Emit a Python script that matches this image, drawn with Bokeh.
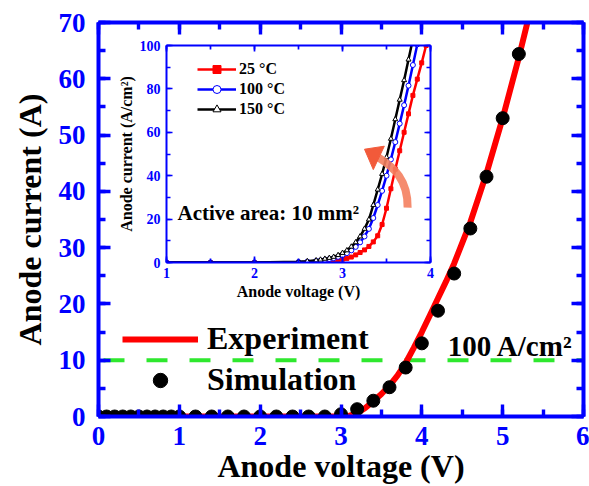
from bokeh.plotting import figure
from bokeh.models import (Range1d, LinearAxis, SingleIntervalTicker, Span, Label,
                          Legend, LegendItem, CustomJSTickFormatter)
from bokeh.layouts import column
from bokeh.embed import file_html
from bokeh.resources import INLINE

# ---------------- main chart data ----------------
exp_voltage = [0.0, 0.5, 1.0, 1.5, 2.0, 2.5, 3.0, 3.1, 3.2, 3.3, 3.4, 3.5, 3.6, 3.7,
               3.8, 3.9, 4.0, 4.1, 4.2, 4.3, 4.4, 4.6, 4.8, 5.0, 5.2, 5.4]
exp_current = [0, 0, 0, 0, 0, 0, 0, 0.1, 0.6, 1.5, 2.7, 4.0, 5.5, 7.3,
               9.5, 12.2, 15.0, 18.0, 21.0, 24.0, 27.2, 34.5, 43.2, 53.0, 63.8, 75.5]

sim_voltage = [0.0, 0.1, 0.2, 0.3, 0.4, 0.5, 0.6, 0.7, 0.8, 0.9, 1.0,
               1.2, 1.4, 1.6, 1.8, 2.0, 2.2, 2.4, 2.6, 2.8, 3.0,
               3.2, 3.4, 3.6, 3.8, 4.0, 4.2, 4.4, 4.6, 4.8, 5.0, 5.2]
sim_current = [0, 0, 0, 0, 0, 0, 0, 0, 0, 0, 0,
               0, 0, 0, 0, 0, 0, 0, 0, 0, 0.4,
               1.3, 2.8, 5.2, 8.7, 13.0, 18.8, 25.4, 33.4, 42.6, 53.0, 64.4]

threshold_current = 10  # 100 A/cm2 over 10 mm2

# ---------------- inset data ----------------
inset_voltage = [1.0, 1.5, 2.0, 2.5, 2.6, 2.7, 2.75, 2.8, 2.85, 2.9, 2.95, 3.0,
                 3.05, 3.1, 3.15, 3.2, 3.25, 3.3, 3.35, 3.4, 3.45, 3.5, 3.55, 3.6,
                 3.65, 3.7, 3.75, 3.8, 3.85, 3.9, 3.95, 4.0]
j_25C = [0, 0, 0, 0, 0.1, 0.2, 0.3, 0.4, 0.6, 0.8, 1.1, 1.5,
         1.9, 2.5, 3.5, 4.6, 5.8, 7.4, 9.5, 12.3, 17.5, 25, 34, 43,
         51.5, 60, 68.5, 77, 84.5, 92, 100, 108]
j_100C = [0, 0, 0, 0.2, 0.4, 0.7, 0.9, 1.2, 1.6, 2.0, 2.6, 3.4,
          4.3, 5.6, 7.2, 9.3, 12, 15.5, 20.5, 26.5, 33, 40, 47.5, 55.5,
          64, 72.5, 81.5, 91, 100.5]
j_150C = [0, 0, 0, 0.3, 0.6, 1.0, 1.3, 1.7, 2.1, 2.6, 3.4, 4.4,
          5.6, 7.3, 9.3, 12, 15.5, 19.8, 26.5, 33.6, 40.8, 48.5, 57, 66,
          75, 84, 93.5, 103]

# arrow (inset data coords): tail, control 1, control 2, end; head triangle
arrow_x = [3.74, 3.745, 3.58, 3.41]
arrow_y = [25.3, 38.0, 44.0, 48.3]
head_x = [3.25, 3.475, 3.35]
head_y = [52.2, 53.6, 42.8]

FONT = "Liberation Serif"
BLUE = "#0000ff"
blank = CustomJSTickFormatter(code="return ''")


def style_axis(ax, lw, maj, mnr, tick_px, lab_px, tstand, astand):
    ax.axis_line_color = BLUE
    ax.axis_line_width = lw
    ax.major_tick_line_color = BLUE
    ax.minor_tick_line_color = BLUE
    ax.major_tick_line_width = lw * 0.85
    ax.minor_tick_line_width = lw * 0.85
    ax.major_tick_in = maj
    ax.major_tick_out = 0
    ax.minor_tick_in = mnr
    ax.minor_tick_out = 0
    ax.major_label_text_color = BLUE
    ax.major_label_text_font = FONT
    ax.major_label_text_font_style = "bold"
    ax.major_label_text_font_size = tick_px
    ax.major_label_standoff = tstand
    ax.axis_label_text_color = "black"
    ax.axis_label_text_font = FONT
    ax.axis_label_text_font_style = "bold"
    ax.axis_label_text_font_size = lab_px
    ax.axis_label_standoff = astand


# ---------------- main figure ----------------
p = figure(width=589, height=486, x_range=Range1d(0, 6), y_range=Range1d(0, 70),
           output_backend="svg", toolbar_location=None,
           min_border_left=98, min_border_right=5, min_border_top=22, min_border_bottom=70,
           x_axis_label="Anode voltage (V)", y_axis_label="Anode current (A)")
p.grid.visible = False
p.outline_line_color = None
p.background_fill_alpha = 0
p.border_fill_alpha = 0

xt = SingleIntervalTicker(interval=1, num_minor_ticks=2)
yt = SingleIntervalTicker(interval=10, num_minor_ticks=2)
p.xaxis[0].ticker = xt
p.yaxis[0].ticker = yt
style_axis(p.xaxis[0], 4, 12, 7, "27px", "32px", 10, 0)
style_axis(p.yaxis[0], 4, 12, 7, "27px", "32px", 13, 8)
top_ax = LinearAxis(ticker=xt, formatter=blank)
right_ax = LinearAxis(ticker=yt, formatter=blank)
style_axis(top_ax, 4, 12, 7, "10px", "10px", 0, 0)
style_axis(right_ax, 4, 12, 7, "10px", "10px", 0, 0)
p.add_layout(top_ax, "above")
p.add_layout(right_ax, "right")

p.add_layout(Span(location=threshold_current, dimension="width", line_color="#2ee82e",
                  line_width=4, line_dash="21 22", line_dash_offset=38, level="underlay"))

r_exp = p.line(exp_voltage, exp_current, line_color="#ff0000", line_width=6)
r_sim = p.scatter(sim_voltage, sim_current, marker="circle", size=13,
                  fill_color="black", line_color="black")

leg = Legend(items=[LegendItem(label="Experiment", renderers=[r_exp]),
                    LegendItem(label="Simulation", renderers=[r_sim])],
             location=(24, 18), padding=0, spacing=4, margin=0,
             label_height=36, glyph_height=36, glyph_width=76, label_standoff=9,
             background_fill_alpha=0, border_line_alpha=0,
             label_text_font=FONT, label_text_font_style="bold",
             label_text_font_size="32px", label_text_color="black")
p.add_layout(leg)

p.add_layout(Label(x=4.32, y=12.6, text="100 A/cm²", text_font=FONT,
                   text_font_style="bold", text_font_size="29px",
                   text_color="black", text_baseline="alphabetic"))

# ---------------- inset figure ----------------
q = figure(width=368, height=266, x_range=Range1d(1, 4), y_range=Range1d(0, 100),
           output_backend="svg", toolbar_location=None,
           min_border_left=48, min_border_right=6, min_border_top=7, min_border_bottom=42,
           x_axis_label="Anode voltage (V)", y_axis_label="Anode current (A/cm²)",
           margin=(38, 0, 0, 68))
q.grid.visible = False
q.outline_line_color = None
q.background_fill_color = "white"
q.border_fill_alpha = 0

ixt = SingleIntervalTicker(interval=1, num_minor_ticks=2)
iyt = SingleIntervalTicker(interval=20, num_minor_ticks=2)
q.xaxis[0].ticker = ixt
q.yaxis[0].ticker = iyt
style_axis(q.xaxis[0], 2, 6, 4, "14px", "16px", 5, 2)
style_axis(q.yaxis[0], 2, 6, 4, "14px", "16px", 6, 2)
itop = LinearAxis(ticker=ixt, formatter=blank)
iright = LinearAxis(ticker=iyt, formatter=blank)
style_axis(itop, 2, 6, 4, "8px", "8px", 0, 0)
style_axis(iright, 2, 6, 4, "8px", "8px", 0, 0)
q.add_layout(itop, "above")
q.add_layout(iright, "right")

l1 = q.line(inset_voltage[:len(j_25C)], j_25C, line_color="#ff0000", line_width=2.5)
s1 = q.scatter(inset_voltage[:len(j_25C)], j_25C, marker="square", size=4,
               fill_color="#ff0000", line_color="#ff0000")
l2 = q.line(inset_voltage[:len(j_100C)], j_100C, line_color="#0000ff", line_width=2.5)
s2 = q.scatter(inset_voltage[:len(j_100C)], j_100C, marker="circle", size=5,
               fill_color="white", line_color="#0000ff", line_width=1)
l3 = q.line(inset_voltage[:len(j_150C)], j_150C, line_color="black", line_width=2.5)
s3 = q.scatter(inset_voltage[:len(j_150C)], j_150C, marker="triangle", size=5,
               fill_color="white", line_color="black", line_width=1)

q.bezier(x0=[arrow_x[0]], y0=[arrow_y[0]], cx0=[arrow_x[1]], cy0=[arrow_y[1]],
         cx1=[arrow_x[2]], cy1=[arrow_y[2]], x1=[arrow_x[3]], y1=[arrow_y[3]],
         line_color="#f4805f", line_width=8, line_alpha=0.9)
q.patch(head_x, head_y, fill_color="#f25a3a", line_color="#f25a3a")

ileg = Legend(items=[LegendItem(label="25 °C", renderers=[l1, s1]),
                     LegendItem(label="100 °C", renderers=[l2, s2]),
                     LegendItem(label="150 °C", renderers=[l3, s3])],
              location=(31, 143), padding=0, spacing=0, margin=0,
              label_height=20, glyph_height=20, glyph_width=39, label_standoff=3,
              background_fill_alpha=0, border_line_alpha=0,
              label_text_font=FONT, label_text_font_style="bold",
              label_text_font_size="16px", label_text_color="black")
q.add_layout(ileg)

q.add_layout(Label(x=1.125, y=23.0, text="Active area: 10 mm²", text_font=FONT,
                   text_font_style="bold", text_font_size="21px",
                   text_color="black", text_baseline="alphabetic"))

p.margin = (-304, 0, 0, 0)
layout = column(q, p)

open("out.html", "w").write(file_html(layout, INLINE))
